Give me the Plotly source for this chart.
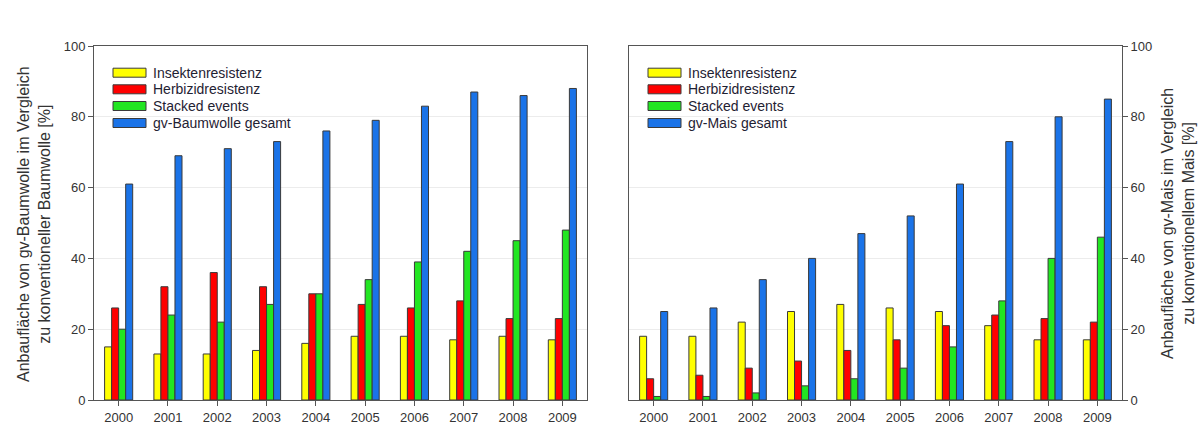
import plotly.graph_objects as go

years = ["2000", "2001", "2002", "2003", "2004", "2005", "2006", "2007", "2008", "2009"]

# Baumwolle (cotton), share of area in %
cotton_insekten = [15, 13, 13, 14, 16, 18, 18, 17, 18, 17]
cotton_herbizid = [26, 32, 36, 32, 30, 27, 26, 28, 23, 23]
cotton_stacked = [20, 24, 22, 27, 30, 34, 39, 42, 45, 48]
cotton_gesamt = [61, 69, 71, 73, 76, 79, 83, 87, 86, 88]

# Mais (maize), share of area in %
mais_insekten = [18, 18, 22, 25, 27, 26, 25, 21, 17, 17]
mais_herbizid = [6, 7, 9, 11, 14, 17, 21, 24, 23, 22]
mais_stacked = [1, 1, 2, 4, 6, 9, 15, 28, 40, 46]
mais_gesamt = [25, 26, 34, 40, 47, 52, 61, 73, 80, 85]

y_ticks = [0, 20, 40, 60, 80, 100]

colors = ["#ffff00", "#ff0000", "#22e622", "#1a73e8"]
outline = "#3a3a3a"
cotton_names = ["Insektenresistenz", "Herbizidresistenz", "Stacked events", "gv-Baumwolle gesamt"]
mais_names = ["Insektenresistenz", "Herbizidresistenz", "Stacked events", "gv-Mais gesamt"]

fig = go.Figure()

for vals, col, name in zip([cotton_insekten, cotton_herbizid, cotton_stacked, cotton_gesamt], colors, cotton_names):
    fig.add_trace(go.Bar(x=years, y=vals, name=name, marker=dict(color=col, line=dict(color=outline, width=1)),
                         xaxis="x", yaxis="y", showlegend=False))
for vals, col, name in zip([mais_insekten, mais_herbizid, mais_stacked, mais_gesamt], colors, mais_names):
    fig.add_trace(go.Bar(x=years, y=vals, name=name, marker=dict(color=col, line=dict(color=outline, width=1)),
                         xaxis="x2", yaxis="y2", showlegend=False))

# Page geometry in pixels
W, H = 1200, 427
ML, MR, MT, MB = 94, 1200 - 1122, 46, 427 - 400
PW, PH = W - ML - MR, H - MT - MB


def px(x):
    return (x - ML) / PW


def py(y):
    return (H - MB - y) / PH


left_dom = [0, px(587)]
right_dom = [px(629), 1]

tick_font = dict(family="Arial, Liberation Sans, sans-serif", size=13, color="#333333")
axis_common = dict(showline=True, linecolor="#555555", linewidth=1, mirror=True, ticks="outside",
                   ticklen=5, tickcolor="#555555", tickfont=tick_font, zeroline=False, automargin=False)

fig.update_layout(
    width=W, height=H,
    margin=dict(l=ML, r=MR, t=MT, b=MB, autoexpand=False),
    paper_bgcolor="white", plot_bgcolor="white",
    barmode="group", bargap=0.43, bargroupgap=0,
    xaxis=dict(domain=left_dom, anchor="y", showgrid=False, **axis_common),
    yaxis=dict(domain=[0, 1], anchor="x", range=[0, 100], tickvals=y_ticks, showgrid=True,
               gridcolor="#ececec", gridwidth=1, **axis_common),
    xaxis2=dict(domain=right_dom, anchor="y2", showgrid=False, **axis_common),
    yaxis2=dict(domain=[0, 1], anchor="x2", side="right", range=[0, 100], tickvals=y_ticks, showgrid=True,
                gridcolor="#ececec", gridwidth=1, **axis_common),
)

# Legends drawn as wide outlined swatches with labels
shapes = []
annotations = []
row_y = [72.7, 89.3, 106, 123]
for x0, names in [(113, cotton_names), (648, mais_names)]:
    for ry, col, name in zip(row_y, colors, names):
        shapes.append(dict(type="rect", xref="paper", yref="paper",
                           x0=px(x0), x1=px(x0 + 33), y0=py(ry + 4.5), y1=py(ry - 4.5),
                           fillcolor=col, line=dict(color=outline, width=1)))
        annotations.append(dict(xref="paper", yref="paper", x=px(x0 + 38), y=py(ry),
                                text=name, showarrow=False, xanchor="left", yanchor="middle",
                                font=dict(family="Arial, Liberation Sans, sans-serif", size=14, color="#1f2233")))

title_font = dict(family="Arial, Liberation Sans, sans-serif", size=16, color="#333333")
annotations.append(dict(xref="paper", yref="paper", x=px(34), y=py(224), textangle=-90,
                        text="Anbaufläche von gv-Baumwolle im Vergleich<br>zu konventioneller Baumwolle [%]",
                        showarrow=False, xanchor="center", yanchor="middle", font=title_font))
annotations.append(dict(xref="paper", yref="paper", x=px(1178), y=py(224), textangle=-90,
                        text="Anbaufläche von gv-Mais im Vergleich<br>zu konventionellem Mais [%]",
                        showarrow=False, xanchor="center", yanchor="middle", font=title_font))

fig.update_layout(shapes=shapes, annotations=annotations)

fig.write_html("out.html")
